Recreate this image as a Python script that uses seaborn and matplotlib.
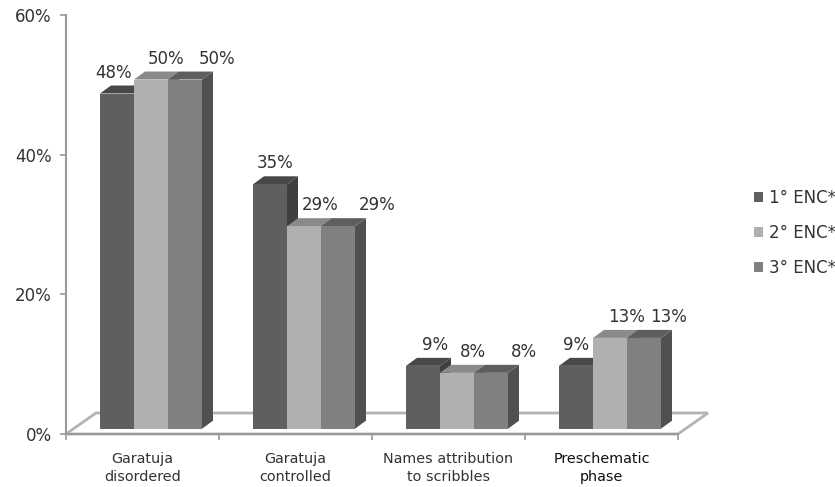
import matplotlib
matplotlib.use("Agg")
import matplotlib.pyplot as plt
import pandas as pd
import seaborn as sns
from matplotlib.patches import Polygon

# Chart content
categories = ["Garatuja\ndisordered", "Garatuja\ncontrolled",
              "Names attribution\nto scribbles", "Preschematic\nphase"]
encounters = ["1° ENC*", "2° ENC*", "3° ENC*"]
enc1_values = [48, 35, 9, 9]
enc2_values = [50, 29, 8, 13]
enc3_values = [50, 29, 8, 13]
y_ticks = [0, 20, 40, 60]

# Look of the extruded bars: front, top and side shades per series
front_colors = ["#5f5f5f", "#b0b0b0", "#808080"]
top_colors = ["#484848", "#8a8a8a", "#5e5e5e"]
side_colors = ["#3e3e3e", "#8a8a8a", "#505050"]
label_nudges = [[-3, 15, 32], [5, 16, 39], [12, 16, 33], [0, 17, 25]]

W, H = 835, 487
LEFT, RIGHT, FRONT_Y, TOP_Y = 66, 678, 434, 15
TEXT = "#333333"
AXIS = "#999999"
VALUE_SIZE = 12

sns.set_theme(style="white")
plt.rcParams["font.family"] = ["DejaVu Sans"]

fig = plt.figure(figsize=(W / 100, H / 100), dpi=100, facecolor="white")
ax = fig.add_axes([LEFT / W, 1 - FRONT_Y / H, (RIGHT - LEFT) / W, (FRONT_Y - TOP_Y) / H])

table = pd.DataFrame({
    "category": categories * 3,
    "encounter": [e for e in encounters for _ in categories],
    "share": enc1_values + enc2_values + enc3_values,
})
sns.barplot(data=table, x="category", y="share", hue="encounter", ax=ax,
            palette=front_colors, saturation=1, width=102 / 153, gap=0,
            legend=False, errorbar=None)

ax.set_xlim(-0.5, len(categories) - 0.5)
ax.set_ylim(0, 60)
ax.set_xlabel("")
ax.set_ylabel("")

# Data units per pixel, used for the oblique projection offsets
ux = (len(categories)) / (RIGHT - LEFT)
uy = 60 / (FRONT_Y - TOP_Y)

# Floor plane behind the bars
floor_dx, floor_dy = 30 * ux, 21 * uy
x0, x1 = ax.get_xlim()
ax.add_patch(Polygon([(x0, 0), (x0 + floor_dx, floor_dy), (x1 + floor_dx, floor_dy), (x1, 0)],
                     closed=True, facecolor="white", edgecolor="#b4b4b4", linewidth=2.0,
                     clip_on=False, zorder=1))

# Lift the bars onto the floor and add their top and side faces
shift_x, shift_y = 8.5 * ux, 5.3 * uy
depth_x, depth_y = 11 * ux, 8 * uy
order = 3
for g in range(len(categories)):
    for s, container in enumerate(ax.containers):
        bar = container[g]
        bar.set_x(bar.get_x() + shift_x)
        bar.set_y(shift_y)
        bar.set_clip_on(False)
        bar.set_linewidth(0)
        l, r = bar.get_x(), bar.get_x() + bar.get_width()
        b, t = bar.get_y(), bar.get_y() + bar.get_height()
        ax.add_patch(Polygon([(r, b), (r + depth_x, b + depth_y), (r + depth_x, t + depth_y), (r, t)],
                             closed=True, facecolor=side_colors[s], linewidth=0,
                             clip_on=False, zorder=order))
        ax.add_patch(Polygon([(l, t), (l + depth_x, t + depth_y), (r + depth_x, t + depth_y), (r, t)],
                             closed=True, facecolor=top_colors[s], linewidth=0,
                             clip_on=False, zorder=order))
        bar.set_zorder(order + 1)
        order += 2
        ax.annotate(f"{bar.get_height():.0f}%", xy=((l + r) / 2, t), xytext=(label_nudges[g][s], 21),
                    textcoords="offset pixels", ha="center", va="center",
                    fontsize=VALUE_SIZE, color=TEXT, annotation_clip=False, zorder=50)

# Axes
sns.despine(ax=ax)
for side in ("left", "bottom"):
    ax.spines[side].set_color(AXIS)
    ax.spines[side].set_linewidth(1.5)
    ax.spines[side].set_zorder(2)
ax.set_yticks(y_ticks)
ax.set_yticklabels([f"{v}%" for v in y_ticks], fontsize=VALUE_SIZE, color=TEXT)
ax.set_xticks([i - 0.5 for i in range(len(categories) + 1)])
ax.set_xticklabels([])
ax.set_xticks(range(len(categories)), labels=categories, minor=True)
ax.tick_params(axis="both", which="major", length=4.3, width=1.2, color=AXIS, direction="out",
               left=True, bottom=True)
ax.tick_params(axis="y", pad=6)
ax.tick_params(axis="x", which="minor", length=0, pad=13, labelsize=10.4, labelcolor=TEXT)
for lab in ax.get_xticklabels(minor=True):
    lab.set_linespacing(1.32)
ax.get_xticklabels(minor=True)[-1].set_color("#111111")

# Legend at the right; its handles come from the bars themselves
handles = [c[0] for c in ax.containers]
fig.legend(handles, encounters, loc="upper left", bbox_to_anchor=(754 / W, 1 - 189 / H),
           frameon=False, fontsize=VALUE_SIZE, handlelength=0.54, handleheight=0.54, handletextpad=0.36,
           labelspacing=1.02, labelcolor=TEXT, borderaxespad=0, borderpad=0)

fig.savefig("out.png", dpi=100, facecolor="white")
